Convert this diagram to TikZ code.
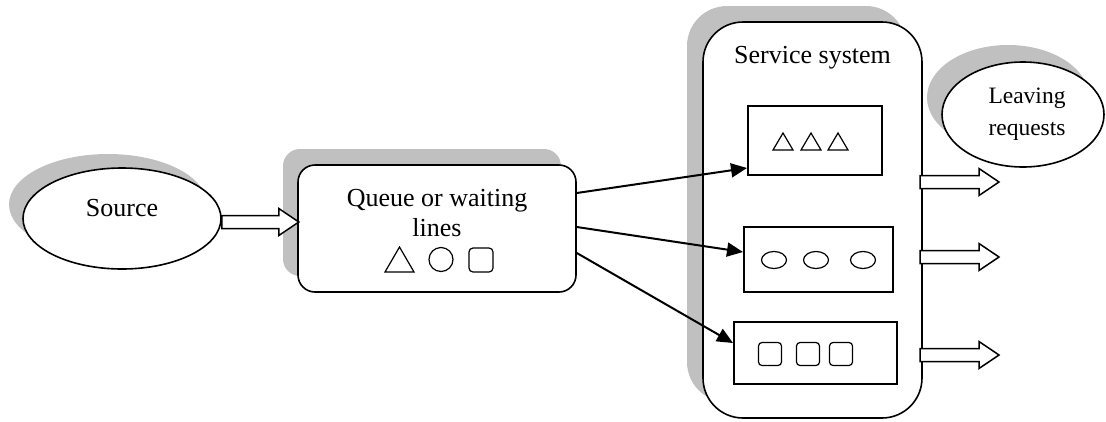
\documentclass[tikz,border=0pt]{standalone}
\usepackage{fontspec}
\setmainfont{Liberation Serif}
\usetikzlibrary{shadows,arrows.meta,shapes.geometric}
\definecolor{shadegray}{RGB}{192,192,192}
\tikzset{
  outline/.style={draw=black, line width=1.6pt, fill=white},
  shade/.style 2 args={drop shadow={shadow xshift=#1, shadow yshift=#2, fill=shadegray, opacity=1}},
  inbox/.style={draw=black, line width=1.6pt, fill=white, inner sep=0pt, anchor=north west},
  token/.style={draw=black, line width=1.2pt},
  flow/.style={line width=2pt, -{Triangle[length=16pt,width=14pt]}},
  fat/.style={draw=black, line width=1.5pt, fill=white, line join=miter},
  bigtxt/.style={font=\fontsize{26}{30}\selectfont, align=center, inner sep=0pt},
  smalltxt/.style={font=\fontsize{23.5}{32}\selectfont, align=center, inner sep=0pt},
}
% hollow block arrow starting at a point, pointing right
\newcommand{\blockarrow}[2]{%
  \draw[fat] (#1) ++(0,-6.5) -- ++(#2-20,0) -- ++(0,-7) -- ++(20,13.5)
    -- ++(-20,13.5) -- ++(0,-7) -- ++(-#2+20,0) -- cycle;}
\begin{document}
\begin{tikzpicture}[x=1pt, y=-1pt]
\useasboundingbox (0,0) rectangle (1106,421);

% Source
\node[outline, shade={-14pt}{14pt}, ellipse, minimum width=198pt, minimum height=101pt, inner sep=0pt]
  (src) at (122,218.5) {};
\node[bigtxt] (srctxt) at (122,208) {Source};

% Queue
\node[outline, shade={-15pt}{16pt}, rounded corners=17pt, minimum width=278pt, minimum height=127pt,
  inner sep=0pt] (queue) at (437,228.5) {};
\node[bigtxt] (queuetxt) at (437,213) {Queue or waiting\\lines};
\draw[token] (385,272) -- (414,272) -- (399.5,247) -- cycle;
\draw[token] (441,259.5) circle (12pt);
\draw[token, rounded corners=4pt] (469,248) rectangle (493,272);

% Service system
\node[outline, shade={-16pt}{16pt}, rounded corners=40pt, minimum width=219pt, minimum height=396pt,
  inner sep=0pt] (serv) at (812.5,220) {};
\node[bigtxt] (servtxt) at (812.5,58) {Service system};

\node[inbox, minimum width=134pt, minimum height=69pt] (b1) at (747,105) {};
\node[inbox, minimum width=149pt, minimum height=65pt] (b2) at (743,226) {};
\node[inbox, minimum width=163pt, minimum height=62pt] (b3) at (733,321) {};

\foreach \cx in {783,811,838}
  \draw[token] (\cx-10,150) -- (\cx+10,150) -- (\cx,133) -- cycle;
\foreach \cx in {774,816,863}
  \draw[token] (\cx,260) ellipse (12.5pt and 8.5pt);
\foreach \cx in {770,808,841}
  \draw[token, rounded corners=3.5pt] (\cx-11.5,342.5) rectangle (\cx+11.5,365.5);

% Leaving requests
\node[outline, shade={-15pt}{17pt}, ellipse, minimum width=162pt, minimum height=105pt,
  inner sep=0pt] (leave) at (1023,114.5) {};
\node[smalltxt] (leavetxt) at (1027,114) {Leaving\\requests};

% Flow arrows
\draw[flow] (queue.east |- 0,193) -- (b1.west |- 0,168);
\draw[flow] (queue.east |- 0,227) -- (b2.west |- 0,252);
\draw[flow] (queue.east |- 0,253) -- (b3.west |- 0,343);

% Block arrows
\blockarrow{src.east |- 0,222}{77}
\coordinate (o1) at (920,182);
\coordinate (o2) at (920,257);
\coordinate (o3) at (920,355);
\blockarrow{o1}{79}
\blockarrow{o2}{79}
\blockarrow{o3}{79}
\end{tikzpicture}
\end{document}
